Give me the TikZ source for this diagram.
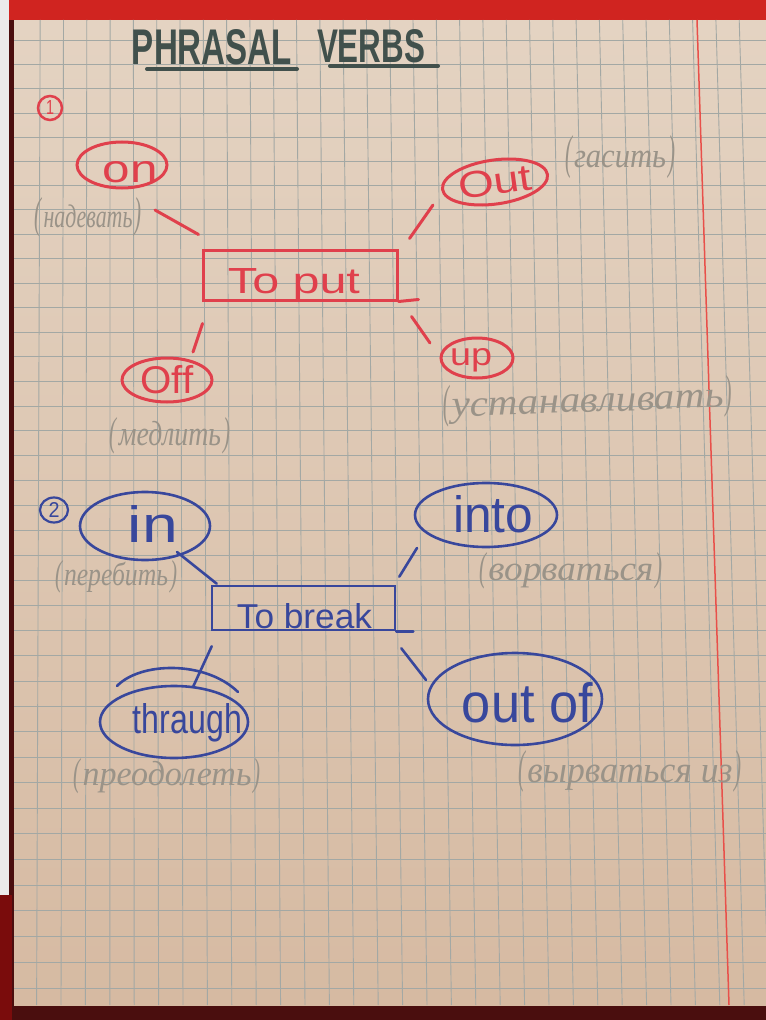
\documentclass[tikz,border=0pt]{standalone}
\usepackage{fontspec}
\setmainfont{Liberation Sans}
\newfontfamily\pencilfont{Liberation Serif}
\usepackage{graphicx}
\usetikzlibrary{shapes.geometric,calc}
\newlength\pxu \setlength\pxu{0.75pt}
\newcommand\fitbox[3]{\resizebox{#1\pxu}{#2\pxu}{#3}}
% pencil note: #1 word width, #2 x-height, #3 paren height, #4 word
\newcommand\pnote[4]{\fitbox{7}{#3}{(}\hspace{2\pxu}\fitbox{#1}{#2}{\raisebox{0pt}[1ex][0pt]{#4}}\hspace{2\pxu}\fitbox{7}{#3}{)}}
\definecolor{paperT}{HTML}{E4D3C2}
\definecolor{paperB}{HTML}{D6BAA2}
\definecolor{gridc}{HTML}{A3A8A4}
\definecolor{marginc}{HTML}{E8504A}
\definecolor{inkred}{HTML}{E0404C}
\definecolor{inkblue}{HTML}{38479C}
\definecolor{pencilc}{HTML}{9A9388}
\definecolor{titlec}{HTML}{41504C}
\definecolor{bandred}{HTML}{D02420}
\definecolor{maroon}{HTML}{7A0C0C}
\definecolor{edgec}{HTML}{4A0E0E}
\tikzset{
  redink/.style={draw=inkred, line width=3\pxu, line cap=round},
  blueink/.style={draw=inkblue, line width=2.6\pxu, line cap=round},
  oval/.style={ellipse, inner sep=0pt},
  redtext/.style={text=inkred, inner sep=0pt},
  bluetext/.style={text=inkblue, inner sep=0pt},
  pencil/.style={text=pencilc, inner sep=0pt, anchor=base, font=\pencilfont\itshape},
  gridline/.style={draw=gridc, line width=0.9\pxu},
}
\begin{document}
\begin{tikzpicture}[x=0.75pt,y=-0.75pt]
\useasboundingbox (0,0) rectangle (766,1020);
% photo surroundings
\fill[edgec] (0,0) rectangle (766,1020);
\fill[black!8] (0,0) rectangle (9,895);
\fill[maroon] (0,895) rectangle (12,1020);
\shade[top color=paperT, bottom color=paperB] (14,20) rectangle (766,1005);
\fill[bandred] (9,0) rectangle (766,20);
% grid
\foreach \k in {1,...,39}{
  \pgfmathsetmacro\yy{16.9+23.93*\k+0.0249*\k*\k}
  \draw[gridline] (14,\yy) -- (766,\yy);
}
\foreach \k in {1,...,31}{
  \pgfmathsetmacro\xt{16.9+23.3*\k}
  \pgfmathsetmacro\xb{12.2+24.4*\k}
  \draw[gridline] (\xt,20) -- (\xb,1005);
}
\draw[draw=marginc, line width=1.5\pxu] (697,20) -- (729,1005);

% title
\node[text=titlec, inner sep=0pt, anchor=base, font=\bfseries] (title1) at (212,65) {\fitbox{160}{35}{PHRASAL}};
\node[text=titlec, inner sep=0pt, anchor=base, font=\bfseries] (title2) at (371,63) {\fitbox{108}{33}{VERBS}};
\draw[draw=titlec, line width=4\pxu, line cap=round] ([shift={(-65,4)}]title1.base) -- ([shift={(85,4)}]title1.base);
\draw[draw=titlec, line width=4\pxu, line cap=round] ([shift={(-41,3)}]title2.base) -- ([shift={(67,3)}]title2.base);

% section 1 (red)
\node[circle, redink, line width=2.5\pxu, minimum size=24\pxu, inner sep=0pt, text=inkred] (n1) at (50,108) {\fitbox{8}{14}{1}};
\node[rectangle, redink, minimum width=194\pxu, minimum height=50\pxu, inner sep=0pt] (put) at (300,275) {};
\draw[redink] (put.south east) -- ++(20,-2);
\node[redtext, anchor=base] (t-put) at (294,293) {\fitbox{132}{25}{To put}};

\node[oval, redink, minimum width=90\pxu, minimum height=46\pxu] (e-on) at (122,165) {};
\node[redtext, anchor=base] (t-on) at (130.5,183) {\fitbox{55}{21}{on}};
\node[pencil] (p-on) at (88,227) {\pnote{89}{15}{30}{надевать}};

\node[oval, redink, text=inkred, minimum width=106\pxu, minimum height=44\pxu, rotate=8] (e-out) at (495,182) {\fitbox{74}{26}{Out}};
\node[pencil] (p-out) at (620,168) {\pnote{92}{16}{33}{гасить}};

\node[oval, redink, minimum width=90\pxu, minimum height=44\pxu] (e-off) at (167,380) {};
\node[redtext] (t-off) at (167,380) {\fitbox{53}{28}{Off}};
\node[pencil] (p-off) at (170,445) {\pnote{102}{16}{28}{медлить}};

\node[oval, redink, minimum width=72\pxu, minimum height=40\pxu] (e-up) at (477,358) {};
\node[redtext, anchor=base] (t-up) at (471,365) {\fitbox{42}{17}{up}};
\node[pencil, rotate=2] (p-up) at (588,412) {\pnote{272}{17}{32}{устанавливать}};

\draw[redink] ([shift={(33,45)}]e-on.center) -- ([shift={(-3,-14)}]put.north west);
\draw[redink] ([shift={(-62,23)}]e-out.center) -- ([shift={(11,-10)}]put.north east);
\draw[redink] ([shift={(1,22)}]put.south west) -- ([shift={(26,-28)}]e-off.center);
\draw[redink] ([shift={(13,15)}]put.south east) -- ([shift={(-47,-15)}]e-up.center);

% section 2 (blue)
\node[ellipse, blueink, line width=2.2\pxu, minimum width=28\pxu, minimum height=25\pxu, inner sep=0pt, text=inkblue] (n2) at (54,510) {\fitbox{11}{15}{2}};
\node[rectangle, blueink, minimum width=183\pxu, minimum height=44\pxu, inner sep=0pt] (break) at (303.5,608) {};
\draw[blueink] (break.south east) -- ++(17,0);
\node[bluetext, anchor=base] (t-break) at (304.5,628) {\fitbox{135}{25}{To break}};

\node[oval, blueink, minimum width=130\pxu, minimum height=68\pxu] (e-in) at (145,526) {};
\node[bluetext, anchor=base] (t-in) at (153,542) {\fitbox{50}{37}{in}};
\node[pencil] (p-in) at (116,585) {\pnote{104}{15}{25}{перебить}};

\node[oval, blueink, minimum width=142\pxu, minimum height=64\pxu] (e-into) at (486,515) {};
\node[bluetext, anchor=base] (t-into) at (493,532) {\fitbox{80}{37}{into}};
\node[pencil] (p-into) at (571,580) {\pnote{165}{16}{28}{ворваться}};

\node[oval, blueink, minimum width=148\pxu, minimum height=72\pxu] (e-through) at (174,722) {};
\draw[blueink] (117,686) .. controls (140,662) and (205,660) .. (238,692);
\node[bluetext, anchor=base] (t-through) at (187.5,733) {\fitbox{109}{30}{thraugh}};
\node[pencil] (p-through) at (167,785) {\pnote{169}{16}{27}{преодолеть}};

\node[oval, blueink, minimum width=174\pxu, minimum height=92\pxu] (e-outof) at (515,699) {};
\node[bluetext, anchor=base] (t-outof) at (527.5,722) {\fitbox{131}{40}{out of}};
\node[pencil] (p-outof) at (630,782) {\pnote{205}{17}{32}{вырваться из}};

\draw[blueink] ([shift={(32,26)}]e-in.center) -- ([shift={(6,-1)}]break.north west);
\draw[blueink] ([shift={(-69,33)}]e-into.center) -- ([shift={(3,-8)}]break.north east);
\draw[blueink] ([shift={(1,15)}]break.south west) -- ([shift={(19,-35)}]e-through.center);
\draw[blueink] ([shift={(5,17)}]break.south east) -- ([shift={(-89,-19)}]e-outof.center);
\end{tikzpicture}
\end{document}
